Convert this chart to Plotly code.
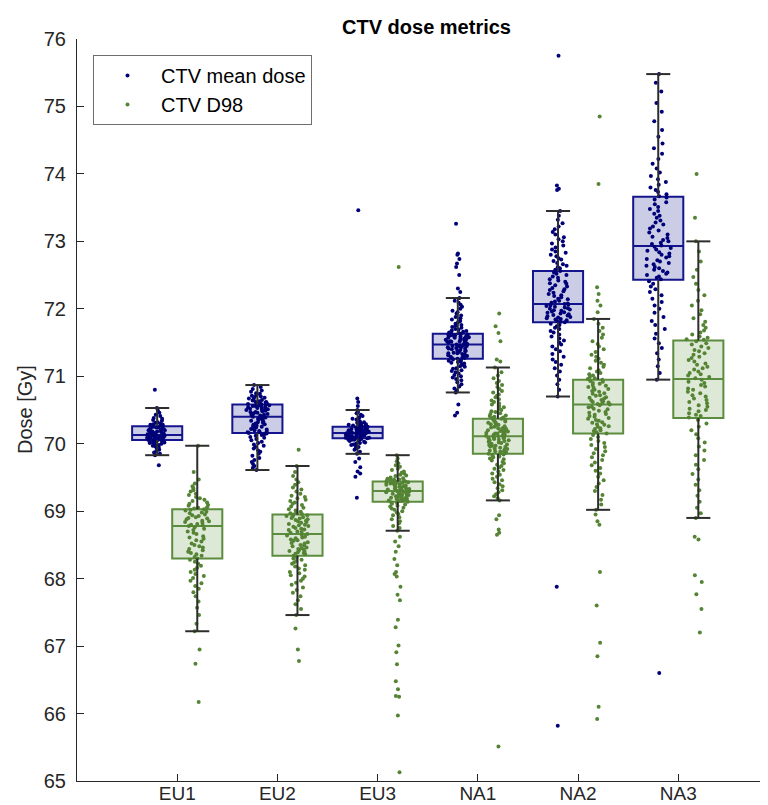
import plotly.graph_objects as go

categories = ["EU1", "EU2", "EU3", "NA1", "NA2", "NA3"]
y_ticks = [65, 66, 67, 68, 69, 70, 71, 72, 73, 74, 75, 76]

# ---- box statistics ----
mean_q1 = [70.055, 70.16, 70.08, 71.26, 71.80, 72.43]
mean_median = [70.13, 70.40, 70.16, 71.47, 72.07, 72.93]
mean_q3 = [70.26, 70.58, 70.25, 71.63, 72.56, 73.66]
mean_lower = [69.83, 69.61, 69.85, 70.76, 70.70, 70.95]
mean_upper = [70.53, 70.87, 70.50, 72.16, 73.45, 75.48]

d98_q1 = [68.30, 68.34, 69.14, 69.85, 70.15, 70.38]
d98_median = [68.78, 68.66, 69.30, 70.11, 70.58, 70.96]
d98_q3 = [69.03, 68.95, 69.44, 70.37, 70.95, 71.53]
d98_lower = [67.22, 67.46, 68.71, 69.16, 69.02, 68.90]
d98_upper = [69.97, 69.67, 69.83, 71.13, 71.85, 73.00]

# ---- individual patient values ----
eu1_mean = [70.80, 70.53, 70.49, 70.46, 70.43, 70.41, 70.38, 70.37, 70.35, 70.34, 70.32, 70.31, 70.30, 70.29,
            70.28, 70.28, 70.27, 70.26, 70.26, 70.25, 70.24, 70.24, 70.23, 70.22, 70.22, 70.21, 70.20, 70.20,
            70.19, 70.18, 70.18, 70.17, 70.17, 70.16, 70.15, 70.15, 70.14, 70.14, 70.13, 70.13, 70.13, 70.12,
            70.12, 70.12, 70.11, 70.11, 70.10, 70.10, 70.10, 70.09, 70.09, 70.08, 70.08, 70.07, 70.07, 70.07,
            70.06, 70.06, 70.06, 70.05, 70.05, 70.04, 70.04, 70.03, 70.02, 70.02, 70.01, 70.00, 69.99, 69.98,
            69.97, 69.96, 69.94, 69.93, 69.91, 69.89, 69.87, 69.85, 69.83, 69.68]
eu1_d98 = [69.97, 69.58, 69.47, 69.41, 69.37, 69.34, 69.31, 69.29, 69.26, 69.24, 69.21, 69.19, 69.17, 69.15,
           69.13, 69.11, 69.09, 69.08, 69.06, 69.05, 69.04, 69.03, 69.02, 69.01, 68.99, 68.98, 68.97, 68.95,
           68.94, 68.93, 68.91, 68.90, 68.89, 68.88, 68.86, 68.85, 68.84, 68.83, 68.81, 68.80, 68.79, 68.78,
           68.76, 68.74, 68.72, 68.70, 68.68, 68.66, 68.63, 68.61, 68.59, 68.57, 68.55, 68.52, 68.50, 68.48,
           68.46, 68.44, 68.42, 68.40, 68.38, 68.36, 68.34, 68.32, 68.30, 68.28, 68.25, 68.22, 68.19, 68.16,
           68.13, 68.10, 68.07, 68.04, 68.01, 67.97, 67.93, 67.89, 67.85, 67.80, 67.74, 67.66, 67.57, 67.46,
           67.33, 67.22, 66.95, 66.74, 66.17]
eu2_mean = [70.87, 70.84, 70.81, 70.79, 70.77, 70.75, 70.74, 70.72, 70.71, 70.70, 70.69, 70.68, 70.67, 70.66,
            70.65, 70.64, 70.63, 70.62, 70.62, 70.61, 70.60, 70.60, 70.59, 70.59, 70.58, 70.57, 70.57, 70.56,
            70.56, 70.55, 70.54, 70.54, 70.53, 70.52, 70.52, 70.51, 70.50, 70.50, 70.49, 70.48, 70.47, 70.47,
            70.46, 70.45, 70.44, 70.43, 70.43, 70.42, 70.41, 70.40, 70.39, 70.38, 70.37, 70.36, 70.35, 70.34,
            70.33, 70.32, 70.31, 70.30, 70.29, 70.28, 70.27, 70.26, 70.25, 70.24, 70.23, 70.22, 70.21, 70.20,
            70.19, 70.18, 70.17, 70.17, 70.16, 70.15, 70.14, 70.13, 70.12, 70.10, 70.09, 70.07, 70.05, 70.03,
            70.01, 69.99, 69.97, 69.95, 69.93, 69.90, 69.88, 69.85, 69.82, 69.79, 69.76, 69.73, 69.70, 69.67,
            69.64, 69.61]
eu2_d98 = [69.91, 69.67, 69.58, 69.52, 69.47, 69.43, 69.39, 69.35, 69.32, 69.29, 69.26, 69.23, 69.21, 69.19,
           69.17, 69.15, 69.13, 69.11, 69.09, 69.07, 69.05, 69.03, 69.01, 68.99, 68.98, 68.97, 68.96, 68.95,
           68.94, 68.93, 68.92, 68.91, 68.90, 68.89, 68.88, 68.87, 68.86, 68.85, 68.84, 68.83, 68.81, 68.80,
           68.79, 68.78, 68.77, 68.75, 68.74, 68.73, 68.72, 68.70, 68.69, 68.68, 68.66, 68.65, 68.64, 68.62,
           68.61, 68.60, 68.58, 68.57, 68.56, 68.54, 68.53, 68.52, 68.50, 68.49, 68.48, 68.46, 68.45, 68.44,
           68.43, 68.42, 68.41, 68.40, 68.39, 68.38, 68.37, 68.36, 68.34, 68.32, 68.30, 68.28, 68.26, 68.24,
           68.22, 68.20, 68.18, 68.15, 68.13, 68.10, 68.08, 68.05, 68.03, 68.00, 67.97, 67.94, 67.91, 67.87,
           67.83, 67.79, 67.74, 67.68, 67.62, 67.55, 67.46, 67.26, 66.95, 66.78]
eu3_mean = [73.46, 70.67, 70.62, 70.56, 70.50, 70.47, 70.45, 70.43, 70.41, 70.39, 70.37, 70.36, 70.34, 70.33,
            70.32, 70.31, 70.30, 70.29, 70.28, 70.28, 70.27, 70.27, 70.26, 70.26, 70.25, 70.25, 70.25, 70.24,
            70.24, 70.23, 70.23, 70.22, 70.22, 70.21, 70.21, 70.20, 70.20, 70.20, 70.19, 70.19, 70.18, 70.18,
            70.18, 70.17, 70.17, 70.17, 70.16, 70.16, 70.16, 70.16, 70.15, 70.15, 70.15, 70.14, 70.14, 70.14,
            70.13, 70.13, 70.13, 70.12, 70.12, 70.12, 70.11, 70.11, 70.11, 70.10, 70.10, 70.10, 70.09, 70.09,
            70.09, 70.08, 70.08, 70.08, 70.07, 70.07, 70.06, 70.06, 70.05, 70.05, 70.04, 70.03, 70.03, 70.02,
            70.01, 70.00, 69.99, 69.98, 69.96, 69.95, 69.93, 69.91, 69.88, 69.85, 69.78, 69.73, 69.65, 69.59,
            69.56, 69.51, 69.20]
eu3_d98 = [72.62, 69.83, 69.78, 69.74, 69.71, 69.68, 69.66, 69.63, 69.61, 69.59, 69.57, 69.56, 69.54, 69.53,
           69.52, 69.50, 69.49, 69.48, 69.47, 69.47, 69.46, 69.45, 69.45, 69.44, 69.44, 69.43, 69.43, 69.42,
           69.42, 69.41, 69.41, 69.40, 69.39, 69.39, 69.38, 69.38, 69.37, 69.36, 69.36, 69.35, 69.34, 69.34,
           69.33, 69.33, 69.32, 69.32, 69.31, 69.31, 69.30, 69.30, 69.29, 69.29, 69.28, 69.28, 69.27, 69.26,
           69.26, 69.25, 69.24, 69.24, 69.23, 69.22, 69.22, 69.21, 69.20, 69.20, 69.19, 69.18, 69.18, 69.17,
           69.16, 69.16, 69.15, 69.15, 69.14, 69.13, 69.12, 69.11, 69.10, 69.08, 69.07, 69.05, 69.04, 69.02,
           69.00, 68.98, 68.96, 68.94, 68.91, 68.88, 68.85, 68.82, 68.78, 68.75, 68.71, 68.62, 68.55, 68.48,
           68.40, 68.29, 68.20, 68.10, 68.07, 68.03, 67.88, 67.76, 67.68, 67.39, 67.28, 67.01, 66.91, 66.73,
           66.48, 66.36, 66.26, 66.25, 65.97, 65.13]
na1_mean = [73.26, 72.82, 72.80, 72.74, 72.67, 72.62, 72.50, 72.30, 72.25, 72.16, 72.12, 72.09, 72.06, 72.03,
            72.00, 71.97, 71.95, 71.93, 71.90, 71.88, 71.86, 71.84, 71.82, 71.80, 71.78, 71.76, 71.75, 71.73,
            71.72, 71.70, 71.69, 71.68, 71.67, 71.66, 71.65, 71.64, 71.63, 71.63, 71.62, 71.62, 71.61, 71.61,
            71.60, 71.60, 71.59, 71.59, 71.58, 71.58, 71.57, 71.57, 71.56, 71.56, 71.55, 71.55, 71.54, 71.54,
            71.53, 71.52, 71.52, 71.51, 71.51, 71.50, 71.50, 71.49, 71.48, 71.47, 71.46, 71.46, 71.45, 71.45,
            71.44, 71.43, 71.43, 71.42, 71.41, 71.41, 71.40, 71.39, 71.38, 71.38, 71.37, 71.36, 71.35, 71.34,
            71.34, 71.33, 71.32, 71.31, 71.30, 71.30, 71.29, 71.28, 71.27, 71.27, 71.26, 71.25, 71.24, 71.23,
            71.22, 71.21, 71.20, 71.19, 71.18, 71.16, 71.15, 71.14, 71.12, 71.11, 71.09, 71.08, 71.06, 71.04,
            71.02, 71.00, 70.98, 70.96, 70.94, 70.91, 70.88, 70.85, 70.82, 70.79, 70.76, 70.58, 70.46, 70.42]
na1_d98 = [71.93, 71.74, 71.64, 71.52, 71.25, 71.22, 71.13, 71.06, 71.01, 70.97, 70.93, 70.90, 70.87, 70.84,
           70.81, 70.78, 70.76, 70.73, 70.71, 70.69, 70.66, 70.64, 70.62, 70.60, 70.58, 70.56, 70.54, 70.52,
           70.50, 70.48, 70.47, 70.45, 70.44, 70.42, 70.41, 70.40, 70.39, 70.38, 70.37, 70.36, 70.35, 70.34,
           70.33, 70.32, 70.31, 70.30, 70.29, 70.28, 70.27, 70.26, 70.25, 70.24, 70.23, 70.23, 70.22, 70.21,
           70.20, 70.19, 70.18, 70.18, 70.17, 70.16, 70.15, 70.15, 70.14, 70.13, 70.13, 70.12, 70.12, 70.11,
           70.10, 70.10, 70.09, 70.08, 70.08, 70.07, 70.06, 70.05, 70.05, 70.04, 70.03, 70.02, 70.01, 70.00,
           69.99, 69.98, 69.97, 69.97, 69.96, 69.95, 69.94, 69.93, 69.92, 69.91, 69.90, 69.89, 69.89, 69.88,
           69.87, 69.86, 69.86, 69.85, 69.84, 69.83, 69.81, 69.80, 69.78, 69.77, 69.75, 69.73, 69.71, 69.69,
           69.67, 69.65, 69.63, 69.61, 69.59, 69.56, 69.54, 69.51, 69.48, 69.46, 69.43, 69.40, 69.37, 69.34,
           69.31, 69.28, 69.25, 69.22, 69.19, 69.16, 68.94, 68.88, 68.73, 68.68, 68.65, 65.51]
na2_mean = [75.75, 73.83, 73.78, 73.76, 73.45, 73.38, 73.32, 73.27, 73.22, 73.18, 73.14, 73.10, 73.06, 73.03,
            73.00, 72.97, 72.94, 72.91, 72.88, 72.85, 72.83, 72.80, 72.78, 72.75, 72.73, 72.71, 72.68, 72.66,
            72.64, 72.62, 72.60, 72.58, 72.56, 72.54, 72.52, 72.50, 72.48, 72.46, 72.44, 72.42, 72.40, 72.38,
            72.37, 72.35, 72.33, 72.31, 72.29, 72.28, 72.26, 72.24, 72.22, 72.20, 72.19, 72.17, 72.15, 72.14,
            72.12, 72.11, 72.09, 72.08, 72.07, 72.06, 72.05, 72.04, 72.03, 72.02, 72.01, 72.00, 71.99, 71.98,
            71.97, 71.96, 71.95, 71.94, 71.93, 71.92, 71.91, 71.90, 71.89, 71.88, 71.87, 71.86, 71.85, 71.84,
            71.83, 71.82, 71.81, 71.80, 71.78, 71.76, 71.74, 71.72, 71.70, 71.67, 71.65, 71.62, 71.59, 71.56,
            71.53, 71.50, 71.47, 71.44, 71.40, 71.37, 71.33, 71.29, 71.25, 71.21, 71.17, 71.12, 71.07, 71.01,
            70.95, 70.88, 70.80, 70.70, 67.88, 65.82]
na2_d98 = [74.85, 73.85, 72.32, 72.22, 72.12, 72.05, 71.95, 71.85, 71.78, 71.72, 71.67, 71.62, 71.57, 71.52,
           71.48, 71.44, 71.40, 71.36, 71.32, 71.29, 71.26, 71.23, 71.20, 71.17, 71.14, 71.12, 71.09, 71.07,
           71.05, 71.03, 71.01, 70.99, 70.97, 70.96, 70.95, 70.93, 70.92, 70.90, 70.89, 70.87, 70.86, 70.84,
           70.83, 70.81, 70.80, 70.78, 70.77, 70.75, 70.74, 70.72, 70.71, 70.69, 70.68, 70.67, 70.65, 70.64,
           70.63, 70.62, 70.61, 70.60, 70.59, 70.58, 70.57, 70.55, 70.54, 70.52, 70.51, 70.49, 70.47, 70.46,
           70.44, 70.43, 70.41, 70.40, 70.38, 70.37, 70.35, 70.34, 70.32, 70.31, 70.29, 70.28, 70.26, 70.25,
           70.23, 70.22, 70.20, 70.19, 70.17, 70.15, 70.13, 70.10, 70.07, 70.04, 70.01, 69.98, 69.95, 69.92,
           69.89, 69.86, 69.83, 69.80, 69.76, 69.72, 69.68, 69.64, 69.60, 69.56, 69.51, 69.46, 69.41, 69.36,
           69.30, 69.24, 69.17, 69.10, 69.02, 68.95, 68.85, 68.80, 68.10, 67.60, 67.05, 66.85, 66.10, 65.92]
na3_mean = [75.48, 75.35, 75.22, 75.05, 74.92, 74.78, 74.65, 74.55, 74.45, 74.38, 74.30, 74.22, 74.15, 74.08,
            74.02, 73.97, 73.92, 73.88, 73.84, 73.80, 73.76, 73.73, 73.70, 73.67, 73.65, 73.62, 73.58, 73.55,
            73.51, 73.48, 73.45, 73.41, 73.38, 73.35, 73.31, 73.28, 73.25, 73.22, 73.19, 73.16, 73.13, 73.10,
            73.07, 73.05, 73.02, 73.00, 72.98, 72.96, 72.94, 72.92, 72.90, 72.88, 72.86, 72.84, 72.82, 72.80,
            72.78, 72.76, 72.74, 72.72, 72.70, 72.68, 72.66, 72.64, 72.62, 72.60, 72.58, 72.56, 72.54, 72.52,
            72.50, 72.48, 72.46, 72.44, 72.41, 72.37, 72.33, 72.29, 72.25, 72.20, 72.15, 72.10, 72.05, 72.00,
            71.94, 71.88, 71.82, 71.76, 71.70, 71.63, 71.56, 71.49, 71.42, 71.34, 71.25, 71.15, 71.05, 70.95,
            66.60]
na3_d98 = [74.00, 73.35, 73.00, 72.85, 72.70, 72.58, 72.47, 72.37, 72.28, 72.20, 72.12, 72.05, 71.98, 71.92,
           71.86, 71.81, 71.76, 71.72, 71.68, 71.65, 71.62, 71.59, 71.57, 71.55, 71.54, 71.52, 71.49, 71.47,
           71.44, 71.42, 71.39, 71.37, 71.34, 71.32, 71.29, 71.27, 71.24, 71.22, 71.19, 71.17, 71.14, 71.12,
           71.10, 71.07, 71.05, 71.03, 71.01, 70.99, 70.97, 70.95, 70.92, 70.90, 70.87, 70.85, 70.82, 70.80,
           70.77, 70.75, 70.72, 70.70, 70.67, 70.65, 70.62, 70.60, 70.57, 70.55, 70.52, 70.50, 70.48, 70.45,
           70.43, 70.41, 70.39, 70.35, 70.30, 70.25, 70.20, 70.14, 70.08, 70.02, 69.96, 69.90, 69.83, 69.76,
           69.69, 69.62, 69.55, 69.47, 69.39, 69.31, 69.23, 69.14, 69.05, 68.97, 68.90, 68.62, 68.58, 68.05,
           67.95, 67.77, 67.55, 67.20]

mean_points = [eu1_mean, eu2_mean, eu3_mean, na1_mean, na2_mean, na3_mean]
d98_points = [eu1_d98, eu2_d98, eu3_d98, na1_d98, na2_d98, na3_d98]

# ---- style ----
FONT = "Liberation Sans, Arial, Helvetica, sans-serif"
NAVY = "rgb(0,0,120)"
NAVY_LINE = "rgb(20,20,140)"
NAVY_FILL = "rgba(200,202,230,0.95)"
GREEN = "rgb(84,132,52)"
GREEN_LINE = "rgb(92,140,62)"
GREEN_FILL = "rgba(220,231,212,0.95)"
WHISK = "rgb(45,45,45)"
OFFSET = 0.2
BOX_W = 0.5
CAP = 0.12

cat_pos = list(range(1, len(categories) + 1))
mean_pos = [p - OFFSET for p in cat_pos]
d98_pos = [p + OFFSET for p in cat_pos]


def whisker_xy(pos, q1, q3, lo, hi):
    xs, ys = [], []
    for p, a, b, l, h in zip(pos, q1, q3, lo, hi):
        xs += [p, p, None, p, p, None, p - CAP, p + CAP, None, p - CAP, p + CAP, None]
        ys += [b, h, None, a, l, None, h, h, None, l, l, None]
    return xs, ys


fig = go.Figure()

for pos, pts, q1, med, q3, lo, hi, col, lcol, fcol in [
    (mean_pos, mean_points, mean_q1, mean_median, mean_q3, mean_lower, mean_upper, NAVY, NAVY_LINE, NAVY_FILL),
    (d98_pos, d98_points, d98_q1, d98_median, d98_q3, d98_lower, d98_upper, GREEN, GREEN_LINE, GREEN_FILL),
]:
    fig.add_trace(go.Box(
        x=pos, y=pts, q1=q1, median=med, q3=q3, lowerfence=q1, upperfence=q3,
        boxpoints="all", jitter=0.5, pointpos=0, width=BOX_W,
        fillcolor=fcol, line=dict(color=lcol, width=2),
        marker=dict(color=col, size=4), showlegend=False, hoverinfo="y"))
    wx, wy = whisker_xy(pos, q1, q3, lo, hi)
    fig.add_trace(go.Scatter(x=wx, y=wy, mode="lines", line=dict(color=WHISK, width=2),
                             showlegend=False, hoverinfo="skip"))

# legend entries (dots)
fig.add_trace(go.Scatter(x=[None], y=[None], mode="markers", name="CTV mean dose",
                         marker=dict(color=NAVY, size=4)))
fig.add_trace(go.Scatter(x=[None], y=[None], mode="markers", name="CTV D98",
                         marker=dict(color=GREEN, size=4)))

W, H = 768, 805
ML, MR, MT, MB = 69, 0, 31, 32
plot_w = W - ML - MR

fig.update_layout(
    width=W, height=H, autosize=False,
    margin=dict(l=ML, r=MR, t=MT, b=MB),
    paper_bgcolor="white", plot_bgcolor="white",
    font=dict(family=FONT, size=20, color="rgb(38,38,38)"),
    boxmode="overlay",
    title=dict(text="<b>CTV dose metrics</b>", x=0.5, xref="paper", xanchor="center",
               y=1 - 19 / H, yref="container", yanchor="middle",
               font=dict(family=FONT, size=20, color="black")),
    legend=dict(x=(85 - ML) / plot_w, y=1 - (47 - MT) / (H - MT - MB), xanchor="left", yanchor="top",
                bordercolor="rgb(110,110,110)", borderwidth=1, bgcolor="white",
                font=dict(family=FONT, size=20, color="black"), itemwidth=57,
                tracegroupgap=0),
    showlegend=True,
)
fig.update_xaxes(range=[0, 6.975], tickmode="array", tickvals=cat_pos, ticktext=categories,
                 ticks="inside", ticklen=7, tickcolor="rgb(38,38,38)", showline=True,
                 linecolor="rgb(38,38,38)", linewidth=1, showgrid=False, zeroline=False,
                 ticklabelstandoff=-5, tickfont=dict(size=19))
fig.update_yaxes(range=[65, 76], tickmode="array", tickvals=y_ticks,
                 ticks="inside", ticklen=7, tickcolor="rgb(38,38,38)", showline=True,
                 linecolor="rgb(38,38,38)", linewidth=1, showgrid=False, zeroline=False,
                 ticklabelstandoff=6)
fig.add_annotation(text="Dose [Gy]", textangle=-90, xref="paper", yref="paper",
                   x=(17 - ML) / plot_w, y=0.5, xanchor="center", yanchor="middle",
                   showarrow=False, font=dict(family=FONT, size=20, color="rgb(38,38,38)"))

fig.write_html("out.html")
